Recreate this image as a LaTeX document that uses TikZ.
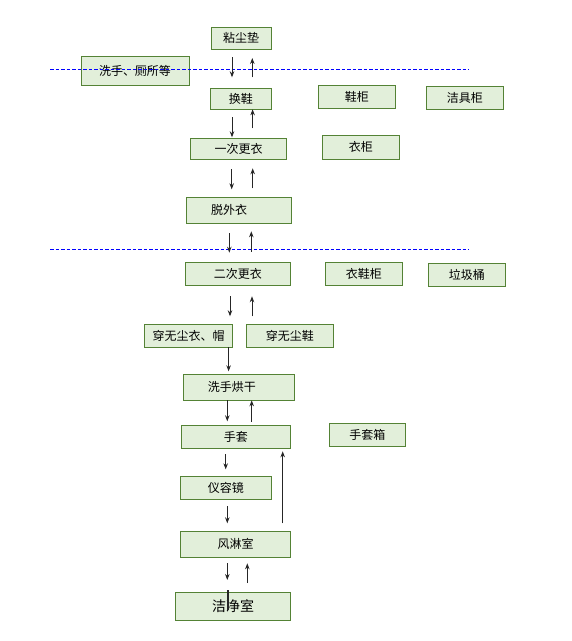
\documentclass[tikz,border=0pt]{standalone}
\usepackage{fontspec}
\setmainfont{Noto Sans CJK SC}
\usepackage{tikz}
\usetikzlibrary{arrows,arrows.meta,calc,positioning}
\definecolor{boxfill}{RGB}{226,239,218}
\definecolor{boxline}{RGB}{84,130,53}
\definecolor{zoneline}{RGB}{0,0,255}
\tikzstyle{element}=[
  draw=boxline,
  fill=boxfill,
  font={\fontsize{12}{14}\selectfont},
  inner sep=0pt,
  outer sep=0pt,
  rectangle,
  text centered,
  line width=1pt,
]
\tikzstyle{arrow}=[
  color=black!85,
  draw=black!85,
  line width=.9pt,
]
\tikzstyle{zone}=[
  draw=zoneline,
  line width=1pt,
  dash pattern=on 3.5pt off 2pt,
]
\tikzset{
  >={Stealth[length=6pt,width=4.5pt]},
  shorten >=.5pt,
}
\begin{document}
\begin{tikzpicture}[x=1pt,y=-1pt]
  \useasboundingbox (0,0) rectangle (572,641);
  %%
  \node (zhanchen) [element, minimum width=60pt, minimum height=22pt] at (241,38) {粘尘垫};
  \node (xishou) [element, minimum width=108pt, minimum height=29pt] at (135,70.8) {洗手、厕所等};
  \node (huanxie) [element, minimum width=61pt, minimum height=21pt] at (240.8,98.8) {换鞋};
  \node (xiegui) [element, minimum width=77pt, minimum height=23pt] at (356.8,96.8) {鞋柜};
  \node (jiejugui) [element, minimum width=77pt, minimum height=23pt] at (464.8,97.8) {洁具柜};
  %%
  \node (yici) [element, minimum width=96pt, minimum height=21pt] at (238.5,148.8) {一次更衣};
  \node (yigui) [element, minimum width=77pt, minimum height=24pt] at (360.8,147.3) {衣柜};
  \node (tuowai) [element, minimum width=105pt, minimum height=26pt] at (239,210.3) {\hspace*{-20pt}脱外衣};
  %%
  \node (erci) [element, minimum width=105pt, minimum height=22.6pt] at (237.8,274) {二次更衣};
  \node (yixiegui) [element, minimum width=77pt, minimum height=23pt] at (363.8,273.8) {衣鞋柜};
  \node (laji) [element, minimum width=77pt, minimum height=23pt] at (466.8,274.8) {垃圾桶};
  \node (chuanyi) [element, minimum width=88pt, minimum height=23pt] at (188.5,335.8) {穿无尘衣、帽};
  \node (chuanxie) [element, minimum width=87pt, minimum height=23pt] at (289.8,335.8) {穿无尘鞋};
  %%
  \node (honggan) [element, minimum width=111pt, minimum height=26pt] at (238.8,387.3) {\hspace*{-14pt}洗手烘干};
  \node (shoutao) [element, minimum width=109pt, minimum height=23pt] at (235.8,436.8) {手套};
  \node (shoutaoxiang) [element, minimum width=76pt, minimum height=23pt] at (367.3,434.8) {手套箱};
  \node (yirong) [element, minimum width=91pt, minimum height=22.7pt] at (225.8,487.7) {仪容镜};
  \node (fenglin) [element, minimum width=110.4pt, minimum height=26pt] at (235.5,544.3) {风淋室};
  \node (jiejing) [element, minimum width=115pt, minimum height=28pt, font={\fontsize{14}{16}\selectfont}] at (233.2,606) {洁净室};
  %%
  \draw [zone] (50,69.3) -- (469,69.3);
  \draw [zone] (50,249) -- (469,249);
  %%
  \draw [->, arrow, shorten <=8pt, shorten >=11pt] (zhanchen.south -| 232,0) -- (huanxie.north -| 232,0);
  \draw [->, arrow, shorten <=11pt, shorten >=9pt] (huanxie.north -| 252.3,0) -- (zhanchen.south -| 252.3,0);
  \draw [->, arrow, shorten <=8pt, shorten >=1pt] (huanxie.south -| 232,0) -- (yici.north -| 232,0);
  \draw [->, arrow, shorten <=10pt, shorten >=0pt] (yici.north -| 252.6,0) -- (huanxie.south -| 252.6,0);
  \draw [->, arrow, shorten <=10pt, shorten >=8pt] (yici.south -| 231.7,0) -- (tuowai.north -| 231.7,0);
  \draw [->, arrow, shorten <=9pt, shorten >=9pt] (tuowai.north -| 252.7,0) -- (yici.south -| 252.7,0);
  \draw [->, arrow, shorten <=10pt, shorten >=10pt] (tuowai.south -| 229.3,0) -- (erci.north -| 229.3,0);
  \draw [->, arrow, shorten <=11pt, shorten >=8pt] (erci.north -| 251.3,0) -- (tuowai.south -| 251.3,0);
  \draw [->, arrow, shorten <=11pt, shorten >=8pt] (erci.south -| 230,0) -- (chuanyi.north -| 230,0);
  \draw [->, arrow, shorten <=8pt, shorten >=11pt] (chuanxie.north -| 252,0) -- (erci.south -| 252,0);
  \draw [->, arrow, shorten <=0pt, shorten >=3pt] (chuanyi.south -| 228.6,0) -- (honggan.north -| 228.6,0);
  \draw [->, arrow, shorten <=0pt, shorten >=4pt] (honggan.south -| 227.3,0) -- (shoutao.north -| 227.3,0);
  \draw [->, arrow, shorten <=3.5pt, shorten >=0pt] (shoutao.north -| 251.7,0) -- (honggan.south -| 251.7,0);
  \draw [->, arrow, shorten <=6pt, shorten >=7pt] (shoutao.south -| 225.7,0) -- (yirong.north -| 225.7,0);
  \draw [->, arrow, shorten <=7pt, shorten >=8pt] (yirong.south -| 227.3,0) -- (fenglin.north -| 227.3,0);
  \draw [->, arrow, shorten <=8pt, shorten >=3pt] (fenglin.north -| 282.7,0) -- (shoutao.south -| 282.7,0);
  \draw [->, arrow, shorten <=6pt, shorten >=12pt] (fenglin.south -| 227.3,0) -- (jiejing.north -| 227.3,0);
  \draw [->, arrow, shorten <=9pt, shorten >=6pt] (jiejing.north -| 247.3,0) -- (fenglin.south -| 247.3,0);
  \draw [arrow, line width=1.4pt, shorten >=0pt] ($(jiejing.north -| 228,0)+(0,-2)$) -- ++(0,20);
\end{tikzpicture}
\end{document}
